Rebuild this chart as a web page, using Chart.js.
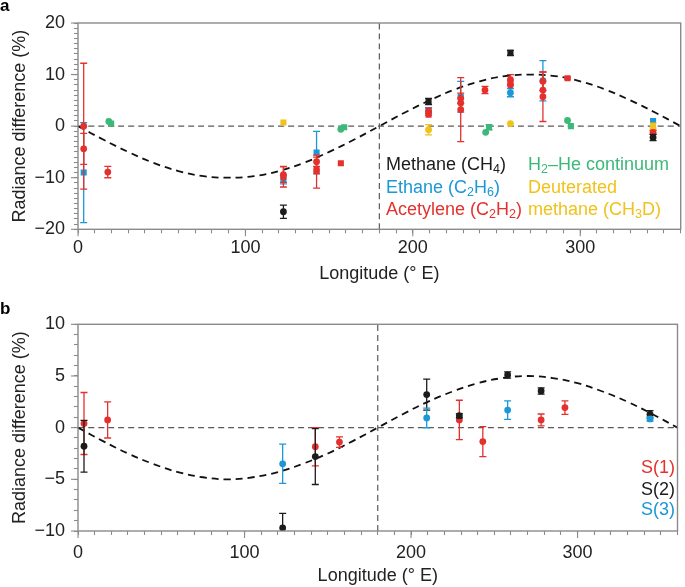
<!DOCTYPE html>
<html><head><meta charset="utf-8">
<script src="https://cdn.jsdelivr.net/npm/chart.js@4"></script>
<style>
html,body{margin:0;padding:0;background:#fff;}
#wrap{position:relative;width:685px;height:587px;overflow:hidden;}
#ca{position:absolute;left:0;top:0;}
#cb{position:absolute;left:0;top:290px;}
</style></head><body>
<div id="wrap"><canvas id="ca"></canvas><canvas id="cb"></canvas></div>
<script>
// ---------- DATA (lon °E, radiance difference %, error) ----------
const curveLon = [0,15,30,45,60,75,90,105,120,135,150,165,180,195,210,225,240,255,270,285,300,315,330,345,360];
const curveA   = [0,-2.6,-5,-7.1,-8.7,-9.7,-10,-9.7,-8.7,-7.1,-5,-2.6,0,2.6,5,7.1,8.7,9.7,10,9.7,8.7,7.1,5,2.6,0];
const curveB   = [0,-1.3,-2.5,-3.5,-4.3,-4.8,-5,-4.8,-4.3,-3.5,-2.5,-1.3,0,1.3,2.5,3.5,4.3,4.8,5,4.8,4.3,3.5,2.5,1.3,0];
const refLon = 180;

// Panel a
const ch4Circ  = [[122.7,-16.6,1.3],[343.5,-2.2,0.6]];
const ch4Sq    = [[209.4,4.8,0.6],[258.3,14.2,0.5]];
const c2h6Circ = [[209.4,3.0,0.6],[258.3,6.5,0.8],[277.7,8.8,3.9]];
const c2h6Sq   = [[3.4,-9.0,9.7],[122.7,-10.4,0.8],[142.5,-5.1,4.1],[228.6,5.7,3.0],[343.5,1.0,0]];
const c2h2Circ = [[3.4,0,12.2],[3.4,-4.4,3.0],[17.8,-8.9,1.1],[122.7,-9.4,1.5],[142.5,-6.9,0.9],[209.4,2.8,0.7],
                  [228.6,5.4,1.0],[228.6,4.5,0],[228.6,3.2,6.2],[243.1,7.0,0.7],[258.3,9.0,1.0],[258.3,8.0,0],
                  [277.7,8.7,1.8],[277.7,7.0,0],[277.7,5.7,4.8],[343.5,-1.2,0.4]];
const c2h2Sq   = [[122.7,-9.8,2.0],[142.5,-8.4,0],[142.5,-8.8,3.2],[157,-7.2,0],[209.4,2.2,0],[258.3,8.5,0],[292.4,9.3,0.2]];
const h2Circ   = [[18.4,0.9,0],[157,-0.6,0],[243.5,-1.2,0],[292.4,1.1,0]];
const h2Sq     = [[19.8,0.5,0],[159,-0.2,0],[245.5,-0.2,0.5],[294.4,0,0]];
const ch3dCirc = [[209.4,-0.7,1.0],[258.3,0.5,0],[343.5,-0.5,0]];
const ch3dSq   = [[122.7,0.7,0],[343.5,0.1,0]];

// Panel b
const s1 = [[3.6,0.4,3.0],[17.8,0.75,1.75],[142.5,-1.84,1.85],[157,-1.4,0.5],[229,0.75,1.9],[243.1,-1.35,1.45],[278.1,0.75,0.57],[292.4,1.94,0.65]];
const s2 = [[3.6,-1.8,2.5],[122.9,-9.7,1.4],[142.5,-2.8,2.7],[209.4,3.2,1.5],[229,1.16,0.2],[258,5.1,0.3],[278.1,3.55,0.3],[343.5,1.3,0.35]];
const s3 = [[122.9,-3.5,1.9],[209.4,0.94,0.95],[258,1.7,0.9],[343.5,0.84,0.2]];

// ---------- STYLE ----------
const BLACK='#1c1c1c', BLUE='#1b98d5', RED='#e5312d', GREEN='#3cb878', YELLOW='#f0c21b';
const FONT="'Liberation Sans', Arial, Helvetica, sans-serif";
Chart.defaults.font.family = FONT;
Chart.defaults.font.size = 18;
Chart.defaults.color = '#222';

function pts(arr){ return arr.map(a=>({x:a[0],y:a[1]})); }
function markerSet(arr, color, style){
  return {data:pts(arr), errs:arr.map(a=>a[2]||0), backgroundColor:color, borderColor:color,
    pointStyle:style, pointRadius: style==='rect'?4.3:3.4, pointBorderWidth:0, showLine:false};
}
function lineSet(xs, ys, color, width, dash){
  return {data:xs.map((x,i)=>({x:x,y:ys[i]})), showLine:true, borderColor:color, borderWidth:width,
    borderDash:dash, pointRadius:0, tension:0.4, fill:false, errs:null};
}

const errorBars = {
  id:'errorBars',
  beforeDatasetDraw(chart, args){
    const ds = chart.data.datasets[args.index];
    if(!ds.errs) return;
    const ctx = chart.ctx, ys = chart.scales.y, a = chart.chartArea;
    ctx.save();
    ctx.beginPath(); ctx.rect(a.left,a.top,a.right-a.left,a.bottom-a.top); ctx.clip();
    ctx.strokeStyle = ds.borderColor; ctx.lineWidth = 1.3;
    args.meta.data.forEach((p,i)=>{
      const e = ds.errs[i]; if(!e) return;
      const v = ds.data[i].y;
      const y1 = ys.getPixelForValue(v+e), y2 = ys.getPixelForValue(v-e), x = p.x, c = 3.5;
      ctx.beginPath();
      ctx.moveTo(x,y1); ctx.lineTo(x,y2);
      ctx.moveTo(x-c,y1); ctx.lineTo(x+c,y1);
      ctx.moveTo(x-c,y2); ctx.lineTo(x+c,y2);
      ctx.stroke();
    });
    ctx.restore();
  }
};

const frame = {
  id:'frame',
  afterDraw(chart, args, opts){
    const ctx = chart.ctx, a = chart.chartArea, xs = chart.scales.x, ys = chart.scales.y;
    ctx.save();
    ctx.strokeStyle = '#8a8a8a'; ctx.lineWidth = 1.4;
    ctx.strokeRect(a.left, a.top, a.right-a.left, a.bottom-a.top);
    // longer major ticks
    ctx.lineWidth = 1.1; ctx.strokeStyle = '#8a8a8a';
    xs.ticks.forEach(t=>{ if(t.value % 100 === 0){ const px = xs.getPixelForValue(t.value);
      ctx.beginPath(); ctx.moveTo(px,a.bottom); ctx.lineTo(px,a.bottom+7); ctx.stroke(); }});
    ys.ticks.forEach(t=>{ if(t.value % opts.major === 0){ const py = ys.getPixelForValue(t.value);
      ctx.beginPath(); ctx.moveTo(a.left,py); ctx.lineTo(a.left-7,py); ctx.stroke(); }});
    // panel letter
    ctx.fillStyle = '#000'; ctx.font = 'bold 17px '+FONT; ctx.textBaseline='alphabetic'; ctx.textAlign='left';
    ctx.fillText(opts.letter, 0, opts.letterY);
    // legend
    opts.legend.forEach(item=>{
      let x = item.x;
      ctx.fillStyle = item.color; ctx.textBaseline='middle';
      item.parts.forEach(p=>{
        const sub = !!p[1];
        ctx.font = (sub? '12.5px ':'18px ') + FONT;
        ctx.fillText(p[0], x, item.y + (sub?5:0));
        x += ctx.measureText(p[0]).width;
      });
    });
    ctx.restore();
  }
};

function minus(v){ return String(v).replace('-', '\u2212'); }

function makeChart(id, height, cfg){
  const cv = document.getElementById(id);
  cv.width = 685; cv.height = height; cv.style.width='685px'; cv.style.height=height+'px';
  return new Chart(cv, {
    type:'scatter',
    data:{datasets:cfg.datasets},
    plugins:[errorBars, frame],
    options:{
      responsive:false, animation:false, devicePixelRatio: window.devicePixelRatio||1,
      layout:{padding:{top:cfg.top, right:1, left:0, bottom:0}},
      plugins:{legend:{display:false}, tooltip:{enabled:false}, frame:cfg.frame},
      scales:{
        x:{type:'linear', min:0, max:360,
           afterBuildTicks(s){ const t=[]; for(let v=0; v<=360; v+=10) t.push({value:v}); s.ticks=t; },
           ticks:{autoSkip:false, maxRotation:0, padding:cfg.xPad, callback:v=> v%100===0 ? String(v) : ''},
           grid:{drawOnChartArea:false, drawTicks:true, tickLength:4, tickColor:'#8a8a8a', tickWidth:1.1},
           border:{display:false},
           title:{display:true, text:'Longitude (° E)', padding:{top:0,bottom:cfg.titlePad}, color:'#222'},
           afterFit(s){ s.height = cfg.xHeight; }},
        y:{type:'linear', min:cfg.ymin, max:cfg.ymax,
           afterBuildTicks(s){ const t=[]; for(let v=cfg.ymin; v<=cfg.ymax; v+=1) t.push({value:v}); s.ticks=t; },
           ticks:{autoSkip:false, padding:9, callback:v=> v%cfg.frame.major===0 ? minus(v) : ''},
           grid:{drawOnChartArea:false, drawTicks:true, tickLength:4, tickColor:'#8a8a8a', tickWidth:1.1},
           border:{display:false},
           title:{display:true, text:'Radiance difference (%)', padding:{top:9,bottom:0}, color:'#222'},
           afterFit(s){ s.width = 78; }}
      }
    }
  });
}

// assign drawing order: later in list = drawn on top
function ordered(list){ const n=list.length; list.forEach((d,i)=>{ d.order = n-i; }); return list; }

const zeroLon = [0,360], zeroVal=[0,0];
const dsA = ordered([
  lineSet(zeroLon, zeroVal, '#5a5a5a', 1.2, [6,4]),
  lineSet([refLon,refLon], [-20,20], '#5a5a5a', 1.2, [6,4]),
  lineSet(curveLon, curveA, '#111', 1.8, [7,5]),
  markerSet(c2h6Sq, BLUE, 'rect'), markerSet(c2h6Circ, BLUE, 'circle'),
  markerSet(ch3dSq, YELLOW, 'rect'), markerSet(ch3dCirc, YELLOW, 'circle'),
  markerSet(h2Sq, GREEN, 'rect'), markerSet(h2Circ, GREEN, 'circle'),
  markerSet(c2h2Sq, RED, 'rect'), markerSet(c2h2Circ, RED, 'circle'),
  markerSet(ch4Sq, BLACK, 'rect'), markerSet(ch4Circ, BLACK, 'circle')
]);
const dsB = ordered([
  lineSet(zeroLon, zeroVal, '#5a5a5a', 1.2, [6,4]),
  lineSet([refLon,refLon], [-10,10], '#5a5a5a', 1.2, [6,4]),
  lineSet(curveLon, curveB, '#111', 1.8, [7,5]),
  markerSet(s1, RED, 'circle'), markerSet(s2, BLACK, 'circle'), markerSet(s3, BLUE, 'circle')
]);

makeChart('ca', 290, {datasets:dsA, top:23, ymin:-20, ymax:20, xPad:4, titlePad:5, xHeight:60.7,
  frame:{major:10, letter:'a', letterY:11, legend:[
    {x:386,y:165,color:BLACK,parts:[['Methane (CH'],['4',1],[')']]},
    {x:386,y:188,color:BLUE,parts:[['Ethane (C'],['2',1],['H'],['6',1],[')']]},
    {x:386,y:210,color:RED,parts:[['Acetylene (C'],['2',1],['H'],['2',1],[')']]},
    {x:528,y:165,color:GREEN,parts:[['H'],['2',1],['\u2013He continuum']]},
    {x:528,y:188,color:YELLOW,parts:[['Deuterated']]},
    {x:528,y:210,color:YELLOW,parts:[['methane (CH'],['3',1],['D)']]}
  ]}});
makeChart('cb', 297, {datasets:dsB, top:34.3, ymin:-10, ymax:10, xPad:7.5, titlePad:0, xHeight:56,
  frame:{major:5, letter:'b', letterY:24, legend:[
    {x:641,y:178,color:RED,parts:[['S(1)']]},
    {x:641,y:200,color:BLACK,parts:[['S(2)']]},
    {x:641,y:220,color:BLUE,parts:[['S(3)']]}
  ]}});
</script>
</body></html>
